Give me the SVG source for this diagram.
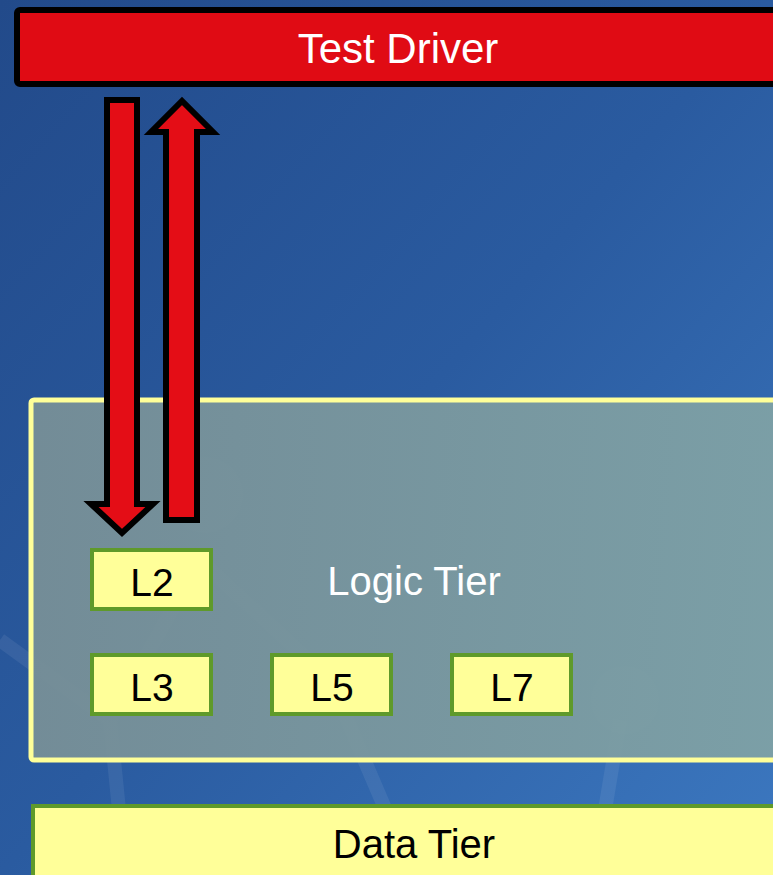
<svg xmlns="http://www.w3.org/2000/svg" width="773" height="875" viewBox="0 0 773 875">
<defs>
<linearGradient id="bg" x1="0" y1="0" x2="1" y2="1">
<stop offset="0" stop-color="#224a8a"/>
<stop offset="0.5" stop-color="#2a5ba0"/>
<stop offset="1" stop-color="#3c78c0"/>
</linearGradient>
<linearGradient id="panel" x1="0" y1="0" x2="1" y2="0">
<stop offset="0" stop-color="#778f97"/>
<stop offset="1" stop-color="#7fa2a6"/>
</linearGradient>
<style>
.lbl{font-family:"Liberation Sans",Arial,sans-serif;text-anchor:middle}
.box{fill:#ffff99;stroke:#5f9a2a;stroke-width:4}
.arrow{fill:#e40d16;stroke:#000;stroke-width:6;stroke-linejoin:miter}
.deco{fill:none;stroke:#ffffff;stroke-opacity:0.07;stroke-width:14}
</style>
</defs>
<rect width="773" height="875" fill="url(#bg)"/>
<g id="background-deco">
<circle cx="205" cy="495" r="38" fill="#ffffff" fill-opacity="0.07"/>
<circle cx="625" cy="700" r="34" fill="#ffffff" fill-opacity="0.07"/>
<path class="deco" d="M0,640 L110,720 M110,720 L200,560 M200,560 L330,680 M330,680 L390,820 M620,720 L600,840 M110,720 L120,820"/>
</g>
<g id="test-driver">
<rect x="17" y="10" width="780" height="74" rx="3" fill="#e00b14" stroke="#000" stroke-width="6"/>
<text class="lbl" x="398" y="63" font-size="42" fill="#ffffff">Test Driver</text>
</g>
<g id="logic-tier">
<rect x="31" y="400" width="770" height="360" rx="3" fill="url(#panel)" fill-opacity="0.95" stroke="#ffff99" stroke-width="5"/>
<text class="lbl" x="414" y="595" font-size="40" fill="#ffffff">Logic Tier</text>
</g>
<g id="L2">
<rect class="box" x="92" y="550" width="119" height="59"/>
<text class="lbl" x="152" y="596" font-size="39" fill="#000">L2</text>
</g>
<g id="L3">
<rect class="box" x="92" y="655" width="119" height="59"/>
<text class="lbl" x="152" y="701" font-size="39" fill="#000">L3</text>
</g>
<g id="L5">
<rect class="box" x="272" y="655" width="119" height="59"/>
<text class="lbl" x="332" y="701" font-size="39" fill="#000">L5</text>
</g>
<g id="L7">
<rect class="box" x="452" y="655" width="119" height="59"/>
<text class="lbl" x="512" y="701" font-size="39" fill="#000">L7</text>
</g>
<g id="data-tier">
<rect x="33" y="806" width="770" height="100" fill="#ffff99" stroke="#5f9a2a" stroke-width="4"/>
<text class="lbl" x="414" y="858" font-size="40" fill="#000">Data Tier</text>
</g>
<g id="connectors">
<path class="arrow" d="M107,100 H137 V504 H153 L122,533 L91,504 H107 Z"/>
<path class="arrow" d="M166,520 V132 H151 L182,101 L213,132 H197 V520 Z"/>
</g>
</svg>
